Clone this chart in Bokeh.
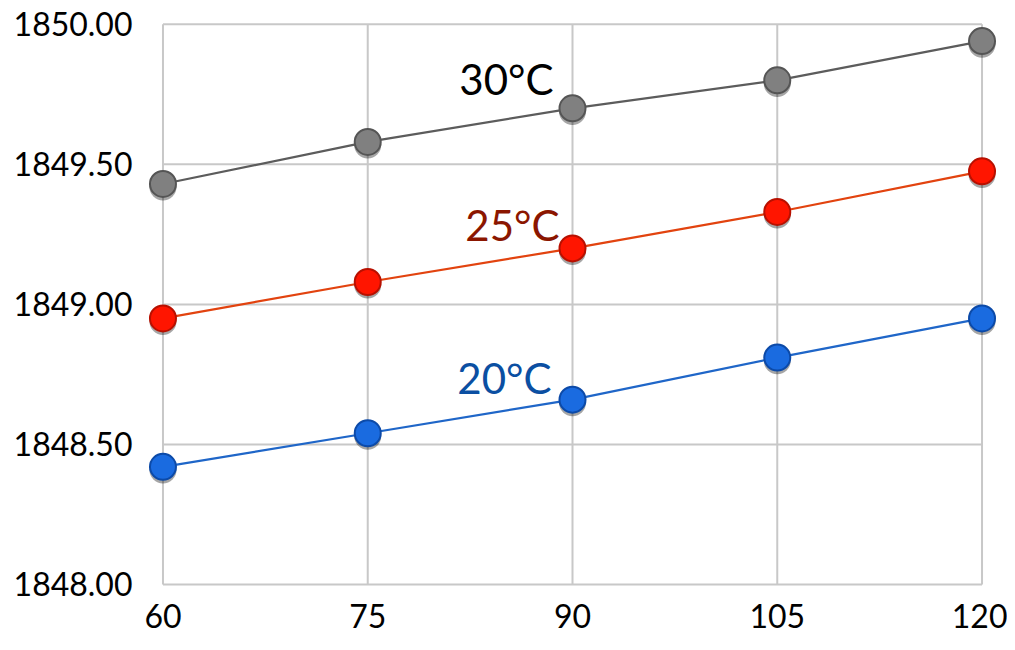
from bokeh.plotting import figure
from bokeh.models import FixedTicker, PrintfTickFormatter, Range1d, ColumnDataSource
from bokeh.core.properties import value
from bokeh.embed import file_html
from bokeh.resources import INLINE

x_vals = [60, 75, 90, 105, 120]
y_ticks = [1848.0, 1848.5, 1849.0, 1849.5, 1850.0]

series_names = ["30\u00b0C", "25\u00b0C", "20\u00b0C"]
t30 = [1849.43, 1849.58, 1849.70, 1849.80, 1849.94]
t25 = [1848.95, 1849.08, 1849.20, 1849.33, 1849.475]
t20 = [1848.42, 1848.54, 1848.66, 1848.81, 1848.95]
series_values = [t30, t25, t20]

# styles
line_colors = ["#5c5c5c", "#e2430f", "#1f66c8"]
fill_colors = ["#808080", "#ff1500", "#1a6be0"]
edge_colors = ["#555555", "#b81000", "#0c4aa8"]
label_colors = ["#000000", "#8b1600", "#0b4fa2"]
label_dx = [-19, -13, -21]
label_dy = [-29, -23, -22]
label_at = 2  # index of the point each label sits next to

FONT = "Lato"
pad_x = 1.5
pad_top = 0.06
pad_bottom = 0.05
shadow_shift = 0.011  # ~3px downward shift for the marker shadow

p = figure(frame_width=860, frame_height=591, output_backend="svg", toolbar_location=None,
           x_range=Range1d(x_vals[0] - pad_x, x_vals[-1] + pad_x),
           y_range=Range1d(y_ticks[0] - pad_bottom, y_ticks[-1] + pad_top),
           min_border_left=142, min_border_right=5, min_border_top=7, min_border_bottom=44)
p.extra_y_ranges = {"shadow": Range1d(y_ticks[0] - pad_bottom + shadow_shift,
                                      y_ticks[-1] + pad_top + shadow_shift)}
p.outline_line_color = None
p.background_fill_color = "white"
p.xgrid.visible = False
p.ygrid.visible = False

for ax in (p.xaxis[0], p.yaxis[0]):
    ax.axis_line_color = None
    ax.major_tick_line_color = None
    ax.minor_tick_line_color = None
    ax.major_tick_out = 0
    ax.major_tick_in = 0
    ax.major_label_text_font = FONT
    ax.major_label_text_font_size = "32px"
    ax.major_label_text_color = "#000000"

p.xaxis.ticker = FixedTicker(ticks=x_vals)
p.yaxis.ticker = FixedTicker(ticks=y_ticks)
p.yaxis.formatter = PrintfTickFormatter(format="%.2f")
p.yaxis.major_label_standoff = 10
p.xaxis.major_label_standoff = 5

# grid lines bounded to the data box
grid_color = "#c8c8c8"
p.segment(x0=x_vals, x1=x_vals, y0=[y_ticks[0]] * len(x_vals), y1=[y_ticks[-1]] * len(x_vals),
          line_color=grid_color, line_width=2)
p.segment(x0=[x_vals[0]] * len(y_ticks), x1=[x_vals[-1]] * len(y_ticks), y0=y_ticks, y1=y_ticks,
          line_color=grid_color, line_width=2)

for i, vals in enumerate(series_values):
    src = ColumnDataSource(dict(x=x_vals, y=vals))
    p.line("x", "y", source=src, line_color=line_colors[i], line_width=2.2)
    p.scatter("x", "y", source=src, size=27, fill_color="#000000", fill_alpha=0.35,
              line_color=None, y_range_name="shadow")
    p.scatter("x", "y", source=src, size=26, fill_color=fill_colors[i],
              line_color=edge_colors[i], line_width=2)
    p.text(x=[x_vals[label_at]], y=[vals[label_at]], text=[series_names[i]],
           text_font=value(FONT), text_font_size="42px", text_color=label_colors[i],
           text_align="right", text_baseline="middle",
           x_offset=label_dx[i], y_offset=label_dy[i])

open("out.html", "w").write(file_html(p, INLINE))
